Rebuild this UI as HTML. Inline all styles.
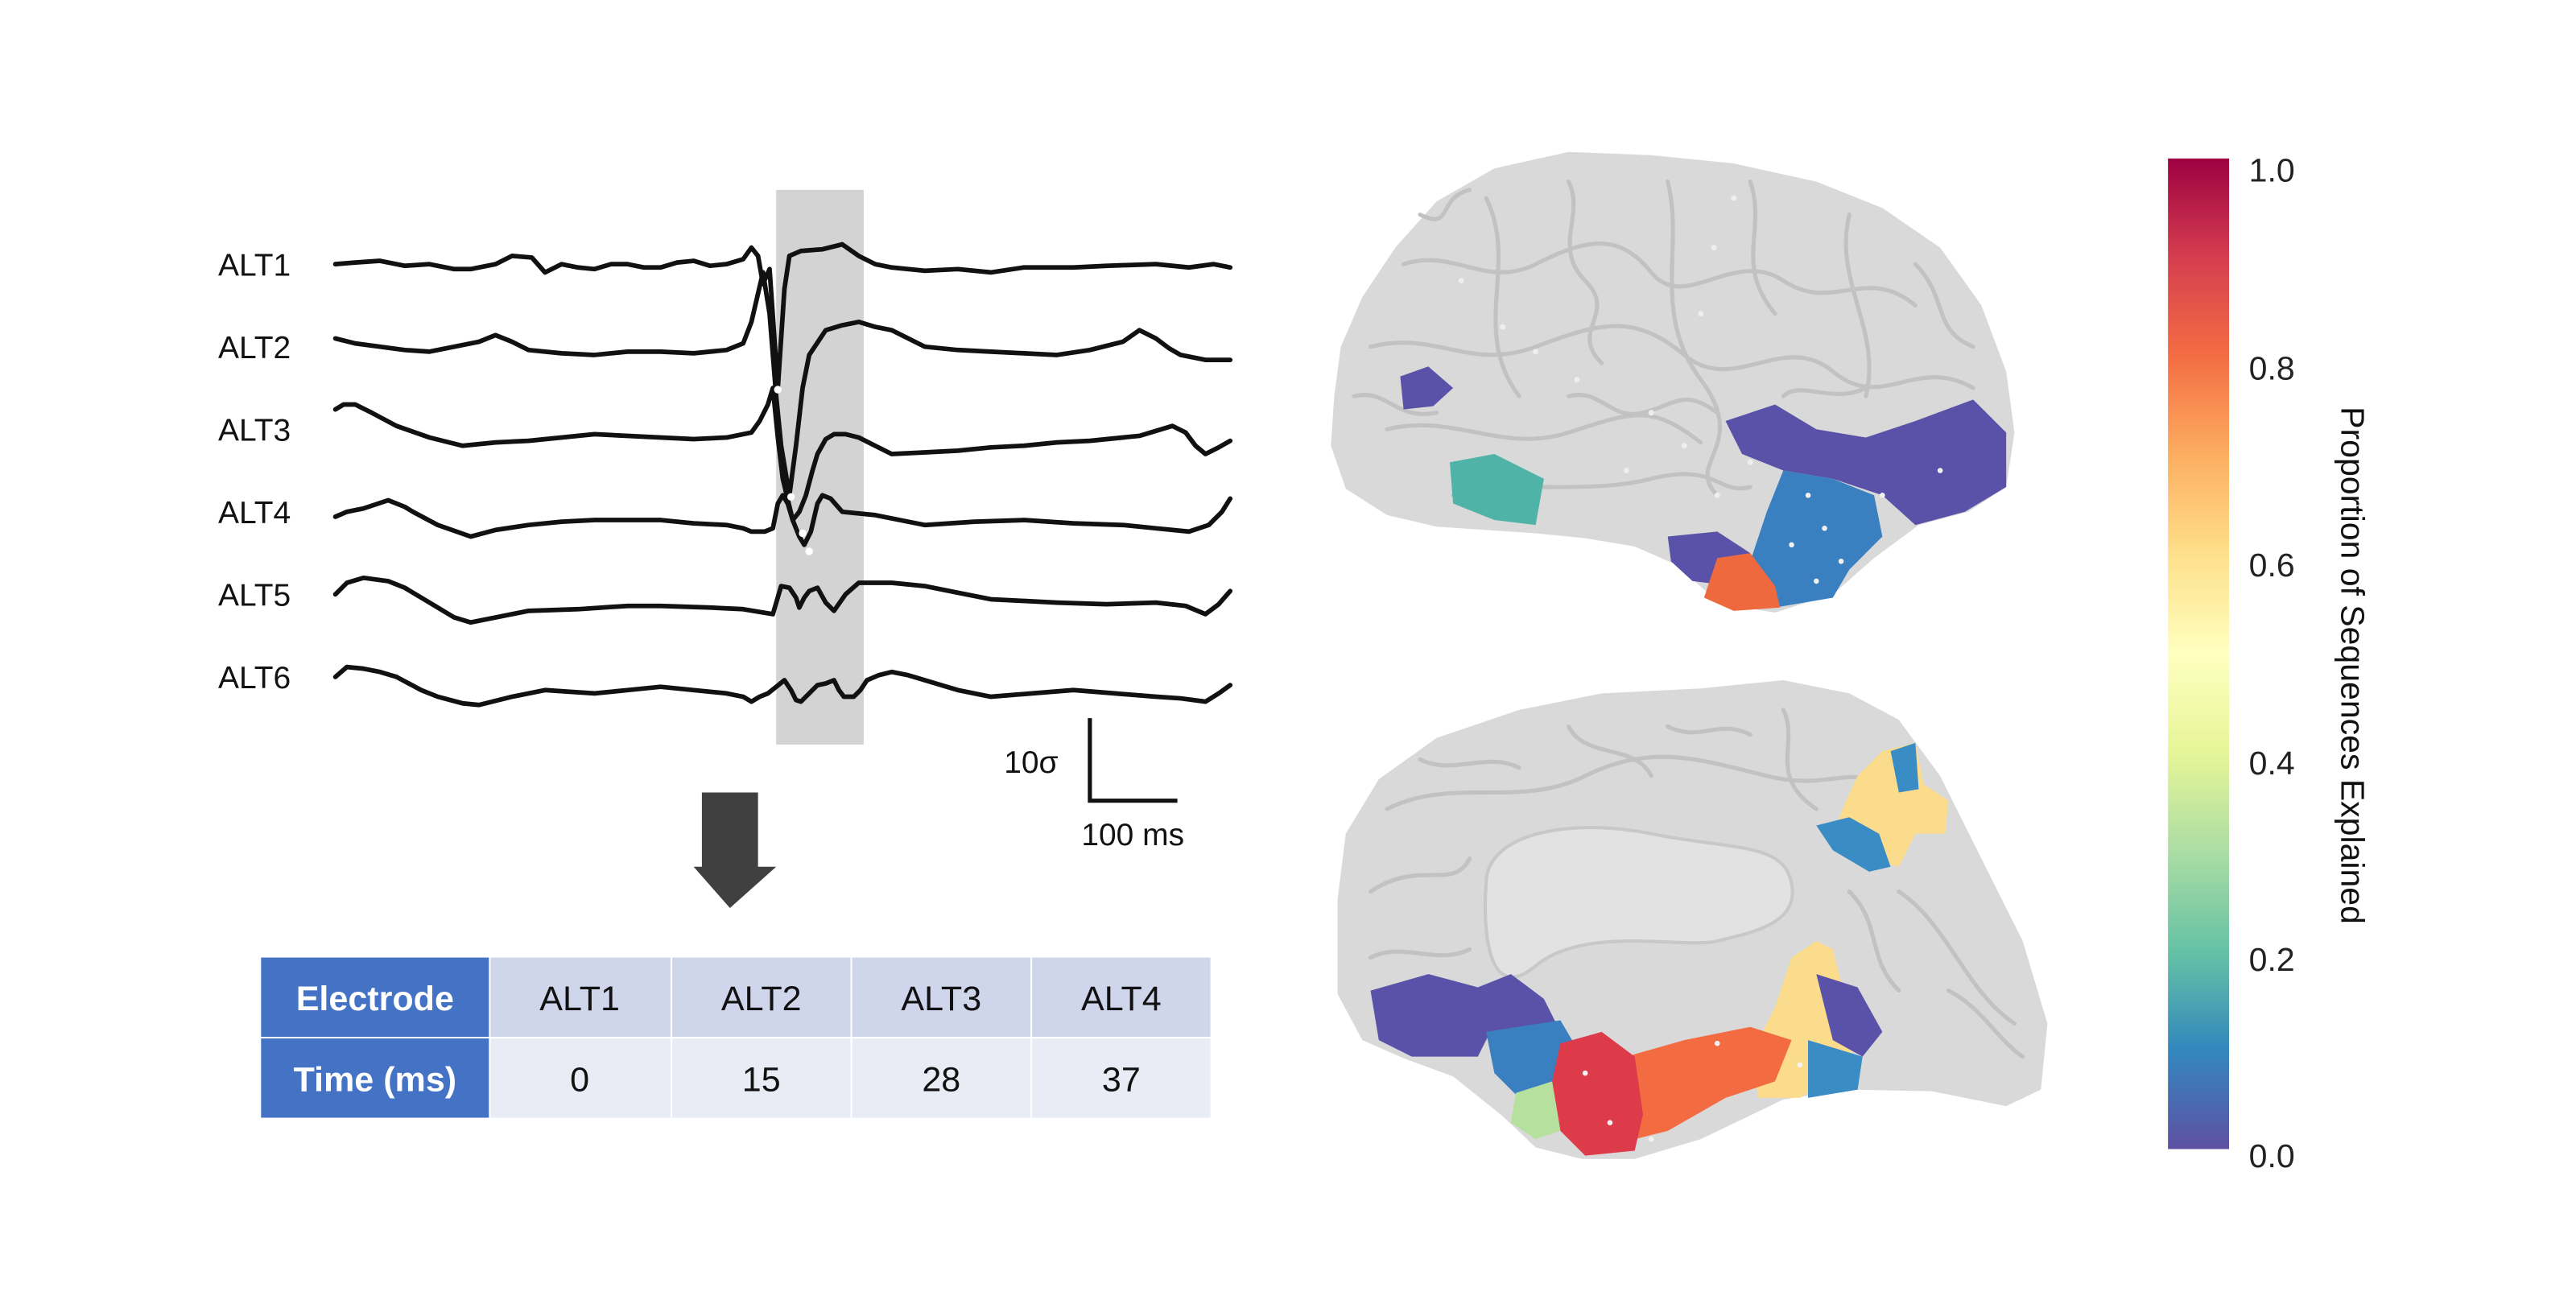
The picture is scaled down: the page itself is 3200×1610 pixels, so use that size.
<!DOCTYPE html>
<html><head><meta charset="utf-8"><style>
html,body{margin:0;padding:0;background:#fff;}
svg{display:block;font-family:"Liberation Sans",sans-serif;}
</style></head><body>
<svg width="3200" height="1610" viewBox="0 0 1560 785" xmlns="http://www.w3.org/2000/svg">
<defs>
<linearGradient id="cb" x1="0" y1="1" x2="0" y2="0">
<stop offset="0" stop-color="#5e4fa2"/><stop offset="0.1" stop-color="#3288bd"/><stop offset="0.2" stop-color="#66c2a5"/><stop offset="0.3" stop-color="#abdda4"/><stop offset="0.4" stop-color="#e6f598"/><stop offset="0.5" stop-color="#ffffbf"/><stop offset="0.6" stop-color="#fee08b"/><stop offset="0.7" stop-color="#fdae61"/><stop offset="0.8" stop-color="#f46d43"/><stop offset="0.9" stop-color="#d53e4f"/><stop offset="1" stop-color="#9e0142"/>
</linearGradient>
</defs>
<rect width="1560" height="785" fill="#fff"/>
<rect x="470" y="115" width="53" height="336" fill="#d3d3d4"/>
<g font-size="19" fill="#111">
<text x="132" y="167">ALT1</text><text x="132" y="217">ALT2</text><text x="132" y="267">ALT3</text>
<text x="132" y="317">ALT4</text><text x="132" y="367">ALT5</text><text x="132" y="417">ALT6</text>
</g>
<g fill="none" stroke="#111" stroke-width="2.8" stroke-linejoin="round" stroke-linecap="round">
<polyline points="203,160 215,159 230,158 245,161 260,160 275,163 285,163 295,161 300,160 310,155 322,156 330,165 340,160 350,162 360,163 370,160 380,160 390,162 400,162 410,159 420,158 430,161 440,160 450,157 455,150 459,155 462,172 466,163 471,235 475,175 478,155 485,152 498,151 510,148 520,155 530,160 540,162 560,164 580,163 600,165 620,162 650,162 670,161 700,160 720,162 735,160 745,162"/>
<polyline points="203,205 215,208 230,210 245,212 260,213 275,210 290,207 300,203 310,207 320,212 340,214 360,215 380,213 400,213 420,214 440,212 450,208 455,195 462,165 466,190 470,240 473,270 478,300 482,270 486,235 490,215 500,200 510,197 520,195 530,198 540,200 550,205 560,210 580,212 600,213 620,214 640,215 660,212 680,207 690,200 700,205 708,211 715,215 730,218 745,218"/>
<polyline points="203,248 208,245 215,245 225,250 240,258 260,265 280,270 300,268 320,267 340,265 360,263 380,264 400,265 420,266 440,265 455,262 460,255 465,245 468,235 471,265 474,290 480,315 484,310 488,300 492,285 495,275 500,266 505,263 512,263 520,265 530,270 540,275 560,274 580,273 600,271 620,270 640,268 660,267 690,264 710,258 718,262 724,270 730,275 738,271 745,267"/>
<polyline points="203,313 210,310 220,308 235,303 245,307 250,310 265,318 285,325 300,321 320,318 340,316 360,315 380,315 400,315 420,317 440,318 450,320 455,322 463,322 468,320 471,305 474,300 477,305 480,315 484,325 487,330 491,322 495,305 498,300 503,302 510,310 530,312 560,318 590,316 620,315 650,317 680,318 700,320 720,322 732,318 740,310 745,302"/>
<polyline points="203,360 210,353 220,350 235,352 245,356 260,365 275,374 285,377 300,374 320,370 350,369 380,367 400,367 430,368 450,369 468,372 473,355 478,356 482,362 484,368 487,362 490,358 495,356 500,365 505,370 512,360 520,353 540,353 560,355 580,359 600,363 620,364 640,365 670,366 700,365 718,367 730,372 738,366 745,358"/>
<polyline points="203,410 210,404 220,405 230,407 240,410 255,418 265,422 280,426 290,427 310,422 330,418 345,419 360,420 380,418 400,416 420,418 440,420 450,422 455,425 460,422 465,420 470,416 475,412 479,418 482,424 485,425 490,420 495,415 500,414 505,412 508,418 511,422 517,422 521,418 525,412 532,409 540,407 550,409 560,412 580,418 600,422 625,420 650,418 675,420 700,422 715,423 730,425 738,420 745,415"/>
</g>
<g fill="#fff"><circle cx="471" cy="236" r="2.3"/><circle cx="479" cy="301" r="2.3"/><circle cx="486" cy="323" r="2.3"/><circle cx="490" cy="334" r="2.3"/></g>
<path d="M660,435 L660,485 L713,485" fill="none" stroke="#111" stroke-width="2.5"/>
<text x="608" y="468" font-size="19" fill="#111">10σ</text>
<text x="686" y="512" font-size="19" fill="#111" text-anchor="middle">100 ms</text>
<path d="M425,480 H459 V525 H470 L442,550 L420,525 H425 Z" fill="#404040"/>
<g>
<rect x="158" y="580" width="138" height="48" fill="#4472c4"/>
<rect x="158" y="629" width="138" height="48" fill="#4472c4"/>
<rect x="297" y="580" width="109" height="48" fill="#cfd5ea"/><rect x="407" y="580" width="108" height="48" fill="#cfd5ea"/>
<rect x="516" y="580" width="108" height="48" fill="#cfd5ea"/><rect x="625" y="580" width="108" height="48" fill="#cfd5ea"/>
<rect x="297" y="629" width="109" height="48" fill="#e9ebf5"/><rect x="407" y="629" width="108" height="48" fill="#e9ebf5"/>
<rect x="516" y="629" width="108" height="48" fill="#e9ebf5"/><rect x="625" y="629" width="108" height="48" fill="#e9ebf5"/>
<g font-size="21" text-anchor="middle">
<text x="227" y="612" fill="#fff" font-weight="bold">Electrode</text>
<text x="227" y="661" fill="#fff" font-weight="bold">Time (ms)</text>
<text x="351" y="612" fill="#111">ALT1</text><text x="461" y="612" fill="#111">ALT2</text>
<text x="570" y="612" fill="#111">ALT3</text><text x="679" y="612" fill="#111">ALT4</text>
<text x="351" y="661" fill="#111">0</text><text x="461" y="661" fill="#111">15</text>
<text x="570" y="661" fill="#111">28</text><text x="679" y="661" fill="#111">37</text>
</g>
</g>
<!-- top brain -->
<path d="M808,240 L812,210 L825,180 L845,150 L870,122 L905,102 L950,92 L1000,94 L1050,99 L1100,110 L1140,126 L1175,150 L1200,185 L1215,225 L1220,262 L1215,295 L1192,310 L1162,318 L1135,338 L1110,360 L1075,371 L1042,366 L1015,342 L990,331 L960,326 L930,323 L900,321 L870,319 L840,312 L815,296 L806,270 Z" fill="#d9d9d9"/>
<g fill="none" stroke="#c2c2c2" stroke-width="2.5" stroke-linecap="round">
<path d="M850,160 C880,150 900,175 930,160 S980,140 1000,165 S1050,150 1080,170 S1130,160 1160,185"/>
<path d="M830,210 C870,200 890,225 930,210 S990,190 1020,215 S1080,200 1110,225 S1160,215 1195,235"/>
<path d="M840,260 C880,250 910,275 950,262 S1000,245 1030,268"/>
<path d="M1010,110 C1020,150 1000,190 1030,230 S1020,280 1040,300"/>
<path d="M900,120 C920,160 890,200 920,240"/>
<path d="M1120,130 C1110,170 1140,200 1130,240"/>
<path d="M880,300 C920,290 960,300 1000,290 S1040,300 1060,295"/>
<path d="M860,130 C880,140 870,120 890,115"/>
<path d="M950,110 C960,130 940,150 960,170 S950,200 970,220"/>
<path d="M1060,110 C1070,140 1050,160 1075,190"/>
<path d="M1160,160 C1180,180 1170,200 1195,210"/>
<path d="M820,240 C840,235 845,255 870,250"/>
<path d="M950,240 C970,235 975,255 995,250 S1020,235 1040,250"/>
<path d="M1080,240 C1090,230 1110,245 1130,235"/>
</g>
<g fill="#eeeeee"><circle cx="1050" cy="120" r="1.7"/><circle cx="1030" cy="190" r="1.7"/><circle cx="910" cy="198" r="1.7"/><circle cx="930" cy="213" r="1.7"/><circle cx="985" cy="285" r="1.7"/><circle cx="1040" cy="300" r="1.7"/><circle cx="1020" cy="270" r="1.7"/><circle cx="1038" cy="150" r="1.7"/><circle cx="885" cy="170" r="1.7"/><circle cx="955" cy="230" r="1.7"/><circle cx="1000" cy="250" r="1.7"/><circle cx="1060" cy="280" r="1.7"/></g>
<path d="M848,228 L865,222 L880,235 L868,246 L850,248 Z" fill="#5a52a8"/>
<path d="M878,280 L905,275 L935,290 L930,318 L905,315 L880,305 Z" fill="#4fb3a8"/>
<path d="M1045,255 L1075,245 L1100,260 L1130,265 L1160,255 L1195,242 L1215,262 L1215,295 L1190,310 L1160,318 L1140,300 L1110,290 L1080,285 L1055,275 Z" fill="#5a52a8"/>
<path d="M1080,285 L1110,290 L1135,300 L1140,325 L1120,345 L1110,362 L1075,368 L1060,340 L1070,310 Z" fill="#3a7fc0"/>
<path d="M1010,325 L1040,322 L1060,335 L1050,355 L1025,352 L1012,340 Z" fill="#5a52a8"/>
<path d="M1040,338 L1060,335 L1075,355 L1078,368 L1050,370 L1032,362 Z" fill="#ee6a3e"/>
<g fill="#f2f2f2"><circle cx="1095" cy="300" r="1.6"/><circle cx="1105" cy="320" r="1.6"/><circle cx="1085" cy="330" r="1.6"/><circle cx="1115" cy="340" r="1.6"/><circle cx="1140" cy="300" r="1.6"/><circle cx="1175" cy="285" r="1.6"/><circle cx="1100" cy="352" r="1.6"/></g>
<!-- bottom brain -->
<path d="M810,545 L815,505 L835,472 L870,447 L920,430 L970,420 L1030,417 L1080,412 L1120,420 L1150,436 L1175,470 L1200,520 L1225,570 L1240,620 L1236,660 L1215,670 L1170,661 L1120,660 L1080,666 L1030,690 L990,702 L958,702 L930,695 L910,676 L880,652 L850,641 L825,630 L810,602 Z" fill="#d9d9d9"/>
<path d="M900,535 C900,505 950,495 1000,505 S1080,510 1085,535 S1060,565 1040,570 S960,560 930,585 S898,560 900,535 Z" fill="#e2e2e2" stroke="#c8c8c8" stroke-width="2"/>
<g fill="none" stroke="#c2c2c2" stroke-width="2.5" stroke-linecap="round">
<path d="M840,490 C880,470 920,490 960,470 S1030,460 1070,470 S1120,460 1150,480"/>
<path d="M830,540 C860,520 880,540 890,520"/>
<path d="M1150,540 C1180,560 1190,600 1220,620"/>
<path d="M950,440 C960,460 990,450 1000,470"/>
<path d="M1080,430 C1090,450 1070,470 1100,490"/>
<path d="M860,460 C880,470 900,455 920,465"/>
<path d="M1010,440 C1030,450 1040,435 1060,445"/>
<path d="M830,580 C850,570 870,585 890,575"/>
<path d="M1120,540 C1140,560 1130,580 1150,600"/>
<path d="M1180,600 C1200,610 1210,630 1225,640"/>
</g>
<path d="M1140,455 L1160,450 L1165,475 L1180,485 L1178,505 L1160,505 L1150,525 L1130,520 L1110,505 L1118,485 L1125,470 Z" fill="#fbdc8c"/>
<path d="M1145,455 L1160,450 L1162,478 L1150,480 Z" fill="#3a8cc4"/>
<path d="M1100,500 L1120,495 L1138,505 L1145,525 L1132,528 L1110,515 Z" fill="#3a8cc4"/>
<path d="M1085,580 L1100,570 L1110,575 L1115,595 L1130,620 L1115,650 L1090,665 L1065,665 L1060,640 L1075,610 Z" fill="#fbdc8c"/>
<path d="M1100,590 L1125,598 L1140,625 L1128,640 L1110,630 Z" fill="#5a52a8"/>
<path d="M1095,630 L1128,640 L1125,660 L1095,665 Z" fill="#3a8cc4"/>
<path d="M830,600 L865,590 L895,598 L905,620 L895,640 L855,640 L835,630 Z" fill="#5a52a8"/>
<path d="M895,598 L915,590 L935,605 L945,625 L925,632 L900,625 Z" fill="#5a52a8"/>
<path d="M900,625 L945,618 L955,635 L945,660 L920,665 L905,650 Z" fill="#3a80c0"/>
<path d="M985,640 L1020,630 L1060,622 L1085,630 L1075,655 L1045,665 L1010,685 L990,690 Z" fill="#f36b41"/>
<path d="M945,632 L970,625 L990,640 L995,675 L990,697 L960,700 L945,685 L940,655 Z" fill="#dd3a4a"/>
<path d="M918,662 L940,655 L945,685 L930,690 L915,680 Z" fill="#b6e09d"/>
<g fill="#f2f2f2"><circle cx="960" cy="650" r="1.6"/><circle cx="975" cy="680" r="1.6"/><circle cx="1040" cy="632" r="1.6"/><circle cx="1090" cy="645" r="1.6"/><circle cx="1000" cy="690" r="1.6"/></g>
<rect x="1313" y="96" width="37" height="600" fill="url(#cb)"/>
<g font-size="20" fill="#222">
<text x="1362" y="110">1.0</text><text x="1362" y="230">0.8</text><text x="1362" y="349">0.6</text>
<text x="1362" y="469">0.4</text><text x="1362" y="588">0.2</text><text x="1362" y="707">0.0</text>
</g>
<text transform="translate(1418,403) rotate(90)" font-size="20" fill="#111" text-anchor="middle">Proportion of Sequences Explained</text>
</svg>
</body></html>
